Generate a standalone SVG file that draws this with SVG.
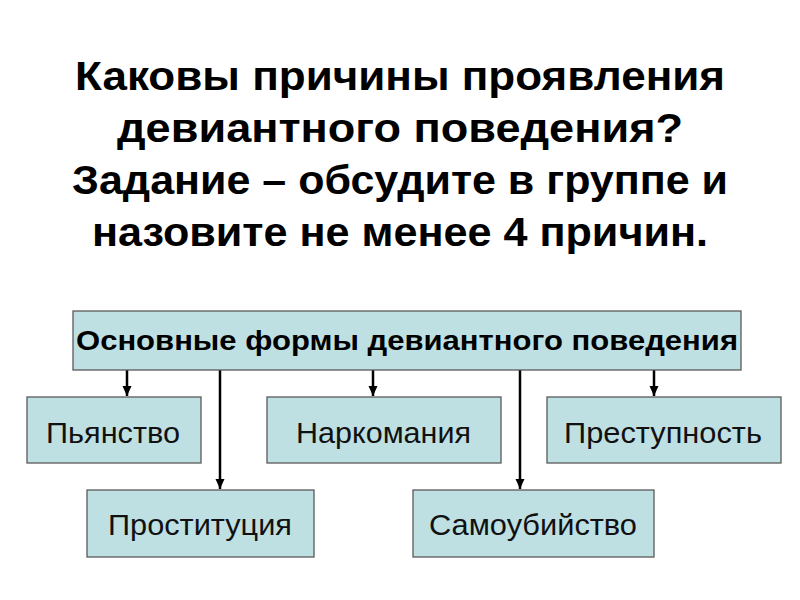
<svg xmlns="http://www.w3.org/2000/svg" width="800" height="600" viewBox="0 0 800 600">
<defs>
<marker id="ah" markerWidth="12" markerHeight="12" refX="10" refY="5.5" orient="auto" markerUnits="userSpaceOnUse">
<path d="M0,1 L10,5.5 L0,10 z" fill="#000"/>
</marker>
<style>
.title{font-family:"Liberation Sans",Arial,sans-serif;font-weight:bold;font-size:40px;fill:#000;text-anchor:middle}
.box{fill:#bfe0e3;stroke:#5a5a5a;stroke-width:1.3}
.lbl{font-family:"Liberation Sans",Arial,sans-serif;font-size:29px;fill:#111;text-anchor:middle}
.hdr{font-family:"Liberation Sans",Arial,sans-serif;font-weight:bold;font-size:28px;fill:#000;text-anchor:middle}
.con{stroke:#000;stroke-width:2.5;fill:none;marker-end:url(#ah)}
</style>
</defs>
<rect width="800" height="600" fill="#fff"/>
<g id="title">
<text class="title" x="400" y="90" textLength="650" lengthAdjust="spacingAndGlyphs">Каковы причины проявления</text>
<text class="title" x="400" y="142" textLength="566" lengthAdjust="spacingAndGlyphs">девиантного поведения?</text>
<text class="title" x="400" y="194" textLength="656" lengthAdjust="spacingAndGlyphs">Задание – обсудите в группе и</text>
<text class="title" x="400" y="246" textLength="616" lengthAdjust="spacingAndGlyphs">назовите не менее 4 причин.</text>
</g>
<g id="connectors">
<line class="con" x1="127" y1="370" x2="127" y2="396"/>
<line class="con" x1="220" y1="370" x2="220" y2="489"/>
<line class="con" x1="373" y1="370" x2="373" y2="396"/>
<line class="con" x1="520" y1="370" x2="520" y2="489"/>
<line class="con" x1="654" y1="370" x2="654" y2="396"/>
</g>
<g id="main">
<rect class="box" x="73" y="311" width="668" height="59"/>
<text class="hdr" x="407" y="350" textLength="662" lengthAdjust="spacingAndGlyphs">Основные формы девиантного поведения</text>
</g>
<g id="pyanstvo">
<rect class="box" x="27" y="397" width="174" height="66"/>
<text class="lbl" x="113" y="443" textLength="134" lengthAdjust="spacingAndGlyphs">Пьянство</text>
</g>
<g id="narkomaniya">
<rect class="box" x="267" y="397" width="234" height="66"/>
<text class="lbl" x="383.5" y="443" textLength="175" lengthAdjust="spacingAndGlyphs">Наркомания</text>
</g>
<g id="prestupnost">
<rect class="box" x="547" y="397" width="234" height="66"/>
<text class="lbl" x="663" y="443" textLength="198" lengthAdjust="spacingAndGlyphs">Преступность</text>
</g>
<g id="prostitutsiya">
<rect class="box" x="87" y="490" width="227" height="67"/>
<text class="lbl" x="200" y="535" textLength="184" lengthAdjust="spacingAndGlyphs">Проституция</text>
</g>
<g id="samoubiystvo">
<rect class="box" x="413" y="490" width="241" height="67"/>
<text class="lbl" x="533" y="535" textLength="208" lengthAdjust="spacingAndGlyphs">Самоубийство</text>
</g>
</svg>
